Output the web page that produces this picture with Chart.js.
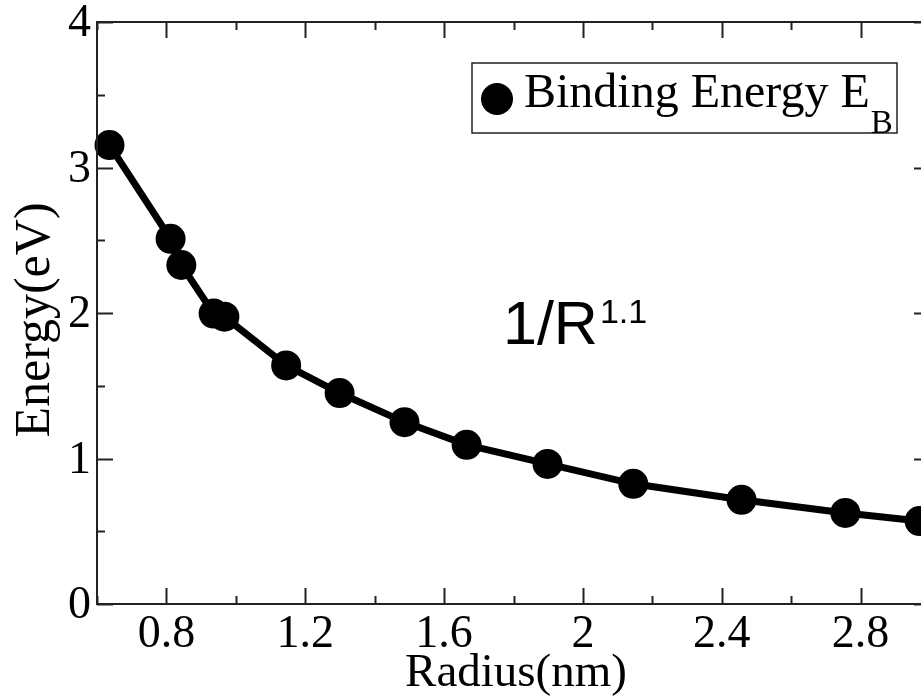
<!DOCTYPE html>
<html>
<head>
<meta charset="utf-8">
<script src="https://cdn.jsdelivr.net/npm/chart.js@4.4.1/dist/chart.umd.min.js"></script>
<style>
  html, body { margin: 0; padding: 0; background: #fff; overflow: hidden; }
  #wrap { width: 921px; height: 698px; overflow: hidden; }
</style>
</head>
<body>
<div id="wrap"><canvas id="myChart" width="960" height="698"></canvas></div>
<script>
// data
var radius = [0.636, 0.812, 0.843, 0.936, 0.967, 1.145, 1.299, 1.486, 1.665, 1.898, 2.145, 2.457, 2.756, 2.97];
var energy = [3.154, 2.51, 2.33, 1.996, 1.975, 1.64, 1.45, 1.25, 1.094, 0.963, 0.826, 0.716, 0.626, 0.57];
var xTicks = [0.8, 1.2, 1.6, 2, 2.4, 2.8];
var xMinor = [0.6, 1.0, 1.4, 1.8, 2.2, 2.6, 3.0];
var yTicks = [0, 1, 2, 3, 4];
var yMinor = [0.5, 1.5, 2.5, 3.5];

var points = radius.map(function(r, i) { return {x: r, y: energy[i]}; });

var serif = '"Liberation Serif", "Times New Roman", serif';

// frame, inward ticks, labels, legend and note
var decor = {
  id: 'decor',
  afterDraw: function(chart) {
    var ctx = chart.ctx;
    var a = chart.chartArea;
    var xs = chart.scales.x, ys = chart.scales.y;
    ctx.save();
    ctx.strokeStyle = '#222';
    ctx.lineWidth = 2;
    ctx.strokeRect(a.left, a.top, a.right - a.left, a.bottom - a.top);

    function xt(v, len) {
      var p = Math.round(xs.getPixelForValue(v)) + 0.5;
      ctx.beginPath();
      ctx.moveTo(p, a.bottom); ctx.lineTo(p, a.bottom - len);
      ctx.moveTo(p, a.top); ctx.lineTo(p, a.top + len);
      ctx.stroke();
    }
    function yt(v, len) {
      var p = Math.round(ys.getPixelForValue(v)) + 0.5;
      ctx.beginPath();
      ctx.moveTo(a.left, p); ctx.lineTo(a.left + len, p);
      ctx.moveTo(a.right, p); ctx.lineTo(a.right - len, p);
      ctx.stroke();
    }
    xTicks.forEach(function(v) { xt(v, 16); });
    xMinor.forEach(function(v) { xt(v, 8); });
    yTicks.forEach(function(v) { yt(v, 16); });
    yMinor.forEach(function(v) { yt(v, 8); });

    ctx.fillStyle = '#000';
    ctx.font = '46px ' + serif;
    ctx.textAlign = 'center';
    ctx.textBaseline = 'alphabetic';
    xTicks.forEach(function(v) {
      ctx.fillText(String(v), xs.getPixelForValue(v), 647);
    });
    ctx.textAlign = 'right';
    ctx.textBaseline = 'middle';
    yTicks.forEach(function(v) {
      ctx.fillText(String(v), a.left - 6, ys.getPixelForValue(v) + 2);
    });

    // axis titles
    ctx.textAlign = 'center';
    ctx.textBaseline = 'alphabetic';
    ctx.font = '47px ' + serif;
    ctx.fillText('Radius(nm)', 516, 686);
    ctx.save();
    ctx.translate(49, 320);
    ctx.rotate(-Math.PI / 2);
    ctx.font = '50px ' + serif;
    ctx.fillText('Energy(eV)', 0, 0);
    ctx.restore();

    // legend
    ctx.lineWidth = 1.5;
    ctx.strokeStyle = '#222';
    ctx.strokeRect(472, 63, 425, 70);
    ctx.beginPath();
    ctx.arc(497, 99, 16, 0, Math.PI * 2);
    ctx.fill();
    ctx.textAlign = 'left';
    ctx.font = '48px ' + serif;
    ctx.fillText('Binding Energy E', 524, 107);
    var w = ctx.measureText('Binding Energy E').width;
    ctx.font = '33px ' + serif;
    ctx.fillText('B', 524 + w + 1, 133);

    // fit note
    ctx.font = '61px "Liberation Sans", Arial, sans-serif';
    ctx.fillText('1/R', 503, 344);
    var w2 = ctx.measureText('1/R').width;
    ctx.font = '34px "Liberation Sans", Arial, sans-serif';
    ctx.fillText('1.1', 503 + w2 + 2, 323);
    ctx.restore();
  }
};

new Chart(document.getElementById('myChart'), {
  type: 'scatter',
  data: {
    datasets: [{
      label: 'Binding Energy',
      data: points,
      showLine: true,
      borderColor: '#000',
      backgroundColor: '#000',
      borderWidth: 7,
      pointRadius: 15,
      pointHoverRadius: 15,
      pointBorderWidth: 0,
      clip: false
    }]
  },
  options: {
    responsive: false,
    animation: false,
    layout: { padding: { left: 97, top: 22, right: 30, bottom: 94 } },
    plugins: { legend: { display: false }, tooltip: { enabled: false } },
    scales: {
      x: { type: 'linear', min: 0.6, max: 3.0, display: false },
      y: { type: 'linear', min: 0, max: 4, display: false }
    }
  },
  plugins: [decor]
});
</script>
</body>
</html>
